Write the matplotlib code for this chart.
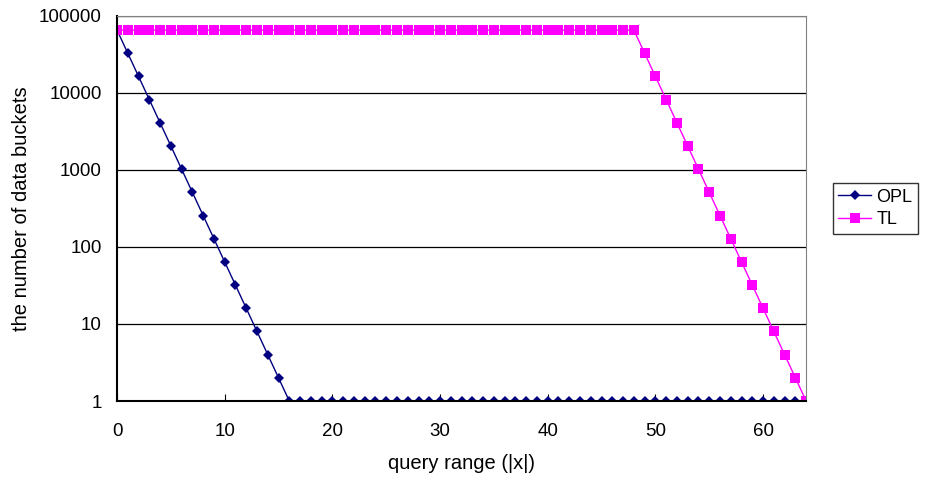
import matplotlib.pyplot as plt
import numpy as np

# query range |x|
x = list(range(0, 65))

# OPL: halves every step until it reaches 1 bucket at x=16
opl = [65536, 32768, 16384, 8192, 4096, 2048, 1024, 512, 256, 128,
       64, 32, 16, 8, 4, 2, 1] + [1] * 48

# TL: flat at 65536 up to x=48, then halves every step
tl = [65536] * 49 + [32768, 16384, 8192, 4096, 2048, 1024, 512, 256,
                     128, 64, 32, 16, 8, 4, 2, 1]

xticks = [0, 10, 20, 30, 40, 50, 60]
yticks = [1, 10, 100, 1000, 10000, 100000]
yticklabels = ['1', '10', '100', '1000', '10000', '100000']

plt.rcParams['font.family'] = ['Liberation Sans', 'DejaVu Sans']

fig = plt.figure(figsize=(9.25, 4.79), dpi=100)
ax = fig.add_axes([0.1265, 0.1628, 0.745, 0.804])

ax.plot(x, opl, color='#000080', marker='D', markersize=5.5, markeredgewidth=0,
        linewidth=1, label='OPL')
ax.plot(x, tl, color='#ff00ff', marker='s', markersize=6.8, markeredgewidth=0,
        linewidth=1, label='TL')

ax.set_yscale('log')
ax.set_xlim(0, 64)
ax.set_ylim(1, 100000)
ax.set_xticks(xticks)
ax.set_yticks(yticks)
ax.set_yticklabels(yticklabels)
ax.minorticks_off()
ax.tick_params(axis='both', labelsize=13.5, direction='in', length=5)
ax.tick_params(axis='y', length=0, pad=11)
ax.tick_params(axis='x', pad=16)

ax.grid(True, axis='y', color='black', linewidth=0.9)
for s in ['top', 'right']:
    ax.spines[s].set_color('#808080')
for s in ['bottom', 'left']:
    ax.spines[s].set_color('black')
    ax.spines[s].set_linewidth(1.5)

ax.set_xlabel('query range (|x|)', fontsize=14.5, labelpad=10)
ax.set_ylabel('the number of data buckets', fontsize=14.5, labelpad=6)

leg = ax.legend(loc='center left', bbox_to_anchor=(1.039, 0.5), fontsize=13,
                frameon=True, fancybox=False, edgecolor='black',
                handlelength=1.8, handletextpad=0.3, borderpad=0.3,
                labelspacing=0.3, borderaxespad=0)
leg.get_frame().set_linewidth(1)

fig.savefig('out.png', dpi=100)
